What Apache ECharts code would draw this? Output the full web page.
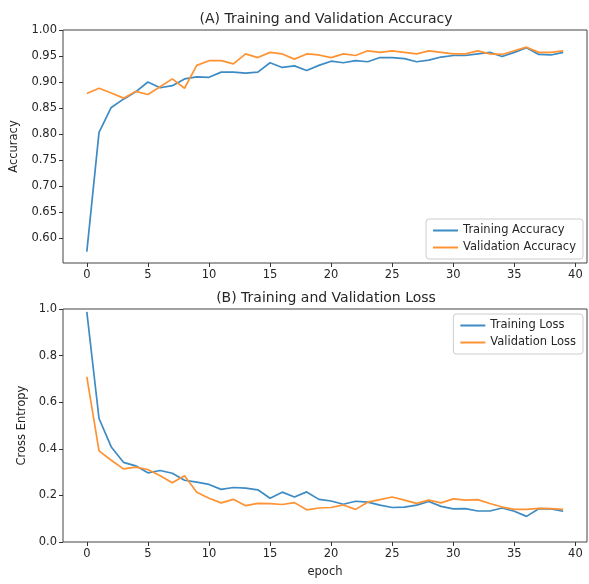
<!DOCTYPE html>
<html>
<head>
<meta charset="utf-8">
<script src="https://cdn.jsdelivr.net/npm/echarts@6/dist/echarts.min.js"></script>
<style>
  html, body { margin: 0; padding: 0; background: #fff; }
  #chart { width: 589px; height: 584px; }
</style>
</head>
<body>
<div id="chart"></div>
<script>
// epochs 0..39
const epochs = [0,1,2,3,4,5,6,7,8,9,10,11,12,13,14,15,16,17,18,19,
  20,21,22,23,24,25,26,27,28,29,30,31,32,33,34,35,36,37,38,39];

const trainAcc = [0.574,0.803,0.851,0.867,0.881,0.900,0.889,0.893,0.906,0.910,
  0.909,0.919,0.919,0.917,0.919,0.937,0.928,0.931,0.922,0.932,
  0.940,0.937,0.941,0.939,0.947,0.947,0.945,0.939,0.942,0.948,
  0.951,0.951,0.954,0.957,0.949,0.957,0.966,0.953,0.952,0.957];

const valAcc = [0.878,0.888,0.879,0.869,0.882,0.876,0.891,0.906,0.888,0.932,
  0.941,0.941,0.935,0.954,0.947,0.957,0.954,0.944,0.954,0.952,
  0.947,0.954,0.951,0.960,0.957,0.960,0.957,0.954,0.960,0.957,
  0.954,0.954,0.960,0.954,0.953,0.960,0.967,0.957,0.957,0.960];

const trainLoss = [0.988,0.530,0.408,0.342,0.327,0.297,0.307,0.295,0.265,0.257,
  0.247,0.226,0.234,0.231,0.224,0.188,0.214,0.193,0.215,0.183,
  0.176,0.162,0.175,0.171,0.158,0.148,0.150,0.158,0.174,0.153,
  0.142,0.143,0.133,0.133,0.146,0.132,0.110,0.143,0.142,0.132];

const valLoss = [0.709,0.391,0.351,0.314,0.321,0.311,0.284,0.254,0.284,0.214,
  0.188,0.168,0.183,0.156,0.166,0.165,0.161,0.169,0.138,0.146,
  0.148,0.159,0.140,0.171,0.182,0.193,0.180,0.166,0.180,0.168,
  0.185,0.180,0.182,0.165,0.150,0.140,0.140,0.144,0.143,0.140];

const xTicks = [0, 5, 10, 15, 20, 25, 30, 35, 40];
const accTicks = [0.60, 0.65, 0.70, 0.75, 0.80, 0.85, 0.90, 0.95, 1.00];
const lossTicks = [0.0, 0.2, 0.4, 0.6, 0.8, 1.0];

const blue = '#3d8bc4';
const orange = '#ff9233';
const font = 'DejaVu Sans';
const txt = '#262626';
const small = 11.5;

function pairs(ys) {
  return epochs.map((e, i) => [e, ys[i]]);
}

function xAxisFor(idx, name) {
  return {
    type: 'value', gridIndex: idx, min: -1.95, max: 40.95,
    name: name, nameLocation: 'middle', nameGap: 24,
    nameTextStyle: { fontFamily: font, fontSize: small, color: txt },
    axisLine: { show: false, onZero: false },
    axisTick: { show: true, length: 4, customValues: xTicks, lineStyle: { color: '#333' } },
    axisLabel: { customValues: xTicks, fontFamily: font, fontSize: small, color: txt, margin: 6 },
    splitLine: { show: false }
  };
}

function yAxisFor(idx, name, min, max, ticks, digits, gap) {
  return {
    type: 'value', gridIndex: idx, min: min, max: max,
    name: name, nameLocation: 'middle', nameGap: gap, nameRotate: 90,
    nameTextStyle: { fontFamily: font, fontSize: small, color: txt },
    axisLine: { show: false, onZero: false },
    axisTick: { show: true, length: 4, customValues: ticks, lineStyle: { color: '#333' } },
    axisLabel: {
      customValues: ticks, fontFamily: font, fontSize: small, color: txt, margin: 6,
      formatter: v => v.toFixed(digits)
    },
    splitLine: { show: false }
  };
}

function lineSeries(name, ys, idx, color) {
  return {
    name: name, type: 'line', xAxisIndex: idx, yAxisIndex: idx,
    data: pairs(ys), showSymbol: false, symbol: 'none', animation: false,
    lineStyle: { color: color, width: 1.7 }, itemStyle: { color: color }
  };
}

const legendBase = {
  orient: 'vertical', right: 6, icon: 'rect', itemWidth: 25, itemHeight: 2,
  itemGap: 4, padding: [5, 7, 5, 7],
  borderColor: '#ccc', borderWidth: 1, borderRadius: 3, backgroundColor: '#fff',
  textStyle: { fontFamily: font, fontSize: small, color: txt, lineHeight: 13 }
};

const chart = echarts.init(document.getElementById('chart'));
chart.setOption({
  animation: false,
  title: [
    { text: '(A) Training and Validation Accuracy', left: 321, top: 7, textAlign: 'center',
      textStyle: { fontFamily: font, fontSize: 14, fontWeight: 'normal', color: txt } },
    { text: '(B) Training and Validation Loss', left: 321, top: 286, textAlign: 'center',
      textStyle: { fontFamily: font, fontSize: 14, fontWeight: 'normal', color: txt } }
  ],
  legend: [
    Object.assign({}, legendBase, { top: 219, data: ['Training Accuracy', 'Validation Accuracy'] }),
    Object.assign({}, legendBase, { top: 314, data: ['Training Loss', 'Validation Loss'] })
  ],
  grid: [
    { left: 63, top: 30, width: 524, height: 233, show: true, borderColor: '#444', borderWidth: 1 },
    { left: 63, top: 309, width: 524, height: 233, show: true, borderColor: '#444', borderWidth: 1 }
  ],
  xAxis: [xAxisFor(0, ''), xAxisFor(1, 'epoch')],
  yAxis: [
    yAxisFor(0, 'Accuracy', 0.552, 1.0, accTicks, 2, 39),
    yAxisFor(1, 'Cross Entropy', 0, 1.0, lossTicks, 1, 30)
  ],
  series: [
    lineSeries('Training Accuracy', trainAcc, 0, blue),
    lineSeries('Validation Accuracy', valAcc, 0, orange),
    lineSeries('Training Loss', trainLoss, 1, blue),
    lineSeries('Validation Loss', valLoss, 1, orange)
  ]
});
</script>
</body>
</html>
